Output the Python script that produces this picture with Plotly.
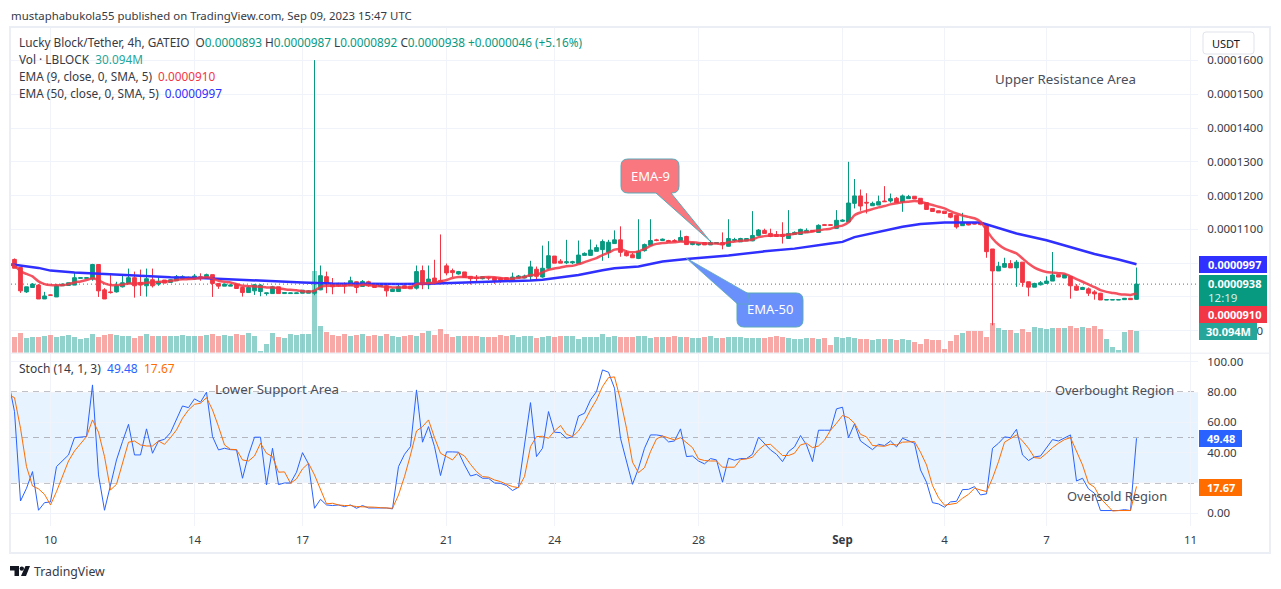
import numpy as np
from plotly.subplots import make_subplots
import plotly.graph_objects as go

# prices are in units of 0.0000001, volume in millions
open_e7 = [1011,987,915,928,935,894,906,900,933,934,
    935,955,955,953,996,921,915,915,930,940,
    957,943,933,951,938,950,943,948,953,953,
    953,960,960,966,940,932,932,938,928,913,
    918,916,910,910,930,910,910,910,911,911,
    911,921,960,938,940,938,933,945,931,945,
    936,931,933,916,916,933,932,926,978,936,
    956,949,992,978,968,974,961,958,954,958,
    958,956,957,947,956,956,961,982,959,985,
    1021,1006,1001,1001,999,1023,1023,1035,1040,1032,
    1058,1069,1032,1025,1014,1037,1053,1069,1067,1067,
    1067,1065,1079,1055,1054,1061,1054,1058,1061,1050,
    1067,1063,1066,1066,1082,1097,1088,1085,1085,1073,
    1085,1085,1090,1097,1091,1114,1114,1103,1124,1122,
    1177,1199,1180,1170,1172,1184,1184,1192,1181,1191,
    1198,1192,1179,1162,1155,1154,1147,1142,1111,1119,
    1119,1120,1111,1042,977,988,999,986,1003,945,
    929,936,940,947,966,956,961,932,922,924,
    915,911,891,891,891,892,896,893]
high_e7 = [1014,987,930,941,938,915,907,938,940,942,
    973,958,958,998,996,926,968,945,966,984,
    975,981,984,984,960,950,952,965,964,960,
    968,970,969,966,940,940,938,938,930,932,
    938,938,912,933,930,914,913,913,920,920,
    1601,993,975,956,942,943,960,946,950,948,
    938,938,935,925,938,934,932,993,993,993,
    1010,1085,999,984,977,974,961,965,962,960,
    958,958,958,972,965,966,1007,990,1052,1065,
    1021,1012,1069,1007,1067,1032,1070,1055,1070,1069,
    1097,1109,1038,1030,1130,1058,1130,1072,1073,1069,
    1071,1097,1081,1063,1060,1062,1067,1062,1091,1130,
    1075,1075,1074,1154,1101,1102,1102,1095,1121,1157,
    1094,1102,1103,1098,1115,1116,1115,1157,1130,1300,
    1249,1218,1207,1182,1200,1228,1206,1196,1203,1202,
    1198,1192,1179,1162,1155,1154,1147,1142,1149,1120,
    1120,1121,1111,1042,1004,1016,1009,1009,1003,945,
    942,947,961,1033,966,968,961,938,930,928,
    920,912,893,893,893,897,897,987]
low_e7 = [985,912,912,928,894,894,904,900,933,934,
    935,955,955,948,900,894,910,913,928,938,
    898,903,901,928,933,941,943,948,952,952,
    951,948,958,900,924,932,932,925,901,913,
    906,902,904,910,910,910,910,910,911,911,
    905,920,911,908,930,910,933,911,931,930,
    928,930,901,915,916,926,924,922,923,923,
    937,937,964,959,966,958,937,947,952,950,
    939,942,947,945,955,955,947,949,957,982,
    1000,1000,997,997,999,1023,1022,1035,1007,1015,
    1057,1019,1020,1016,1012,1034,1052,1065,1066,1063,
    1062,1064,1054,1053,1052,1054,1054,1058,1041,1049,
    1063,1063,1066,1065,1082,1088,1077,1079,1058,1072,
    1085,1085,1090,1093,1091,1112,1111,1102,1122,1122,
    1162,1155,1147,1170,1172,1182,1179,1179,1152,1191,
    1190,1175,1159,1153,1149,1147,1133,1102,1111,1112,
    1115,1112,1016,816,977,987,986,930,930,902,
    929,934,940,947,959,956,895,918,922,903,
    892,891,891,891,891,892,892,892]
close_e7 = [985,918,930,938,894,903,905,933,938,942,
    957,957,957,996,918,894,913,933,942,957,
    933,935,954,933,945,941,951,960,960,958,
    962,954,966,940,932,938,935,925,913,928,
    936,935,912,930,910,913,912,912,920,918,
    920,963,938,930,933,933,948,928,946,933,
    928,936,918,923,930,926,924,975,936,953,
    944,940,971,972,975,958,954,955,960,956,
    949,949,949,959,962,962,989,961,985,1022,
    1000,1000,1004,1004,1024,1029,1039,1046,1064,1062,
    1069,1032,1022,1016,1035,1055,1067,1067,1071,1063,
    1064,1076,1055,1061,1058,1054,1061,1061,1054,1073,
    1070,1073,1073,1082,1098,1088,1079,1079,1079,1088,
    1091,1100,1097,1093,1112,1112,1112,1127,1127,1178,
    1199,1169,1178,1177,1182,1182,1191,1179,1199,1197,
    1190,1175,1159,1153,1149,1147,1136,1107,1121,1113,
    1116,1114,1034,977,991,999,986,1003,943,929,
    940,942,947,965,959,966,933,920,928,911,
    909,891,892,892,892,896,892,938]
volume_m = [21.8,26.9,19.9,21.3,21.3,22.7,24.1,21.3,22.7,24.1,
    21.3,18.5,19.9,25.5,21.3,24.1,25.5,24.1,22.7,22.7,
    19.9,22.7,25.5,22.7,22.7,22.7,22.7,22.7,24.1,22.7,
    22.7,22.7,24.1,25.5,22.7,24.1,22.7,25.5,24.1,26.9,
    22.7,1.9,11.6,26.9,21.3,19.9,25.5,24.1,25.5,25.5,
    113.0,36.6,28.2,24.1,22.7,25.5,22.7,24.1,25.5,22.7,
    24.1,22.7,25.5,22.7,21.3,22.7,24.1,22.7,26.9,29.6,
    24.5,32.9,25.9,21.8,23.2,23.2,23.2,23.2,21.8,21.8,
    21.8,24.5,23.2,24.5,21.8,23.2,23.2,20.4,21.8,23.2,
    21.8,23.2,23.2,23.2,19.0,21.8,21.8,21.8,25.9,21.8,
    23.2,21.8,21.8,21.8,23.2,23.2,20.4,21.8,21.8,21.8,
    23.2,21.8,21.8,20.4,20.4,21.8,23.2,20.4,20.4,21.8,
    21.8,21.8,20.4,20.4,20.4,20.4,21.8,23.2,21.8,20.4,
    19.0,19.0,20.4,20.4,19.0,20.4,10.6,21.8,20.4,21.8,
    19.9,19.0,19.0,17.1,19.0,19.0,19.0,17.1,19.0,17.1,
    14.4,12.5,19.0,17.1,17.1,5.1,16.2,24.5,27.3,30.1,
    30.1,30.1,21.8,41.2,34.3,31.5,31.5,27.3,32.9,28.7,
    35.6,34.3,32.9,34.3,34.3,34.3,37.0,34.3,35.6,34.3,
    37.0,32.9,19.0,7.9,3.7,28.7,31.5,30.094]

# line series start one bar before the first visible candle
ema9_e7 = [997,
    993,976,968,961,946,938,935,935,935,938,
    943,946,950,955,950,940,935,935,936,940,
    940,940,942,943,945,945,947,950,952,953,
    954,956,958,955,948,945,943,938,933,932,
    931,930,928,928,926,923,921,920,917,916,
    918,930,933,933,933,933,935,933,936,935,
    933,932,930,928,928,928,928,938,940,941,
    942,946,950,956,959,959,958,957,958,959,
    958,956,954,954,957,959,965,965,973,980,
    984,987,991,992,997,1003,1009,1015,1024,1031,
    1040,1042,1035,1032,1035,1042,1051,1057,1060,1061,
    1062,1064,1063,1062,1060,1059,1058,1058,1057,1062,
    1064,1066,1067,1070,1077,1080,1082,1082,1083,1084,
    1087,1090,1092,1094,1097,1100,1102,1108,1111,1121,
    1142,1150,1155,1160,1165,1169,1174,1177,1180,1182,
    1184,1182,1177,1172,1167,1162,1154,1147,1141,1137,
    1133,1123,1098,1073,1055,1043,1036,1029,1014,999,
    987,979,974,972,970,969,961,953,945,937,
    929,920,915,912,909,907,906,910]
ema50_bars = [-1,0,4,6,10,14,20,26,31,37,42,48,53,59,64,69,75,80,86,88,92,94,98,100,104,108,
    112,119,125,130,136,138,140,144,148,151,155,161,163,167,172,176,180,184,187]
ema50_e7 = [996,995,986,978,972,968,963,958,956,951,947,943,940,938,938,939,942,945,949,951,959,965,979,985,990,1005,
    1012,1023,1035,1043,1058,1063,1077,1093,1108,1116,1120,1120,1110,1088,1068,1048,1027,1011,997]
stoch_k = [86.9,
    67.1,8.1,16.5,27.5,2.0,7.0,7.5,30.8,34.5,38.5,
    49.9,50.2,50.6,84.7,25.3,2.0,18.7,35.2,47.3,58.7,
    38.5,38.5,55.7,39.6,47.7,48.8,53.2,61.6,70.8,69.7,
    75.5,73.3,79.9,50.6,41.8,42.9,42.0,41.8,23.1,38.5,
    50.2,50.2,18.7,42.9,18.9,20.0,20.0,27.1,40.0,32.6,
    3.3,9.2,5.5,5.1,5.5,4.4,5.5,3.3,5.1,3.5,
    3.5,3.7,3.5,2.9,30.8,38.9,44.0,81.4,46.9,57.2,
    44.0,24.9,40.5,40.5,40.3,31.9,24.6,25.7,23.1,23.1,
    20.0,19.8,18.3,15.0,17.2,45.1,73.0,37.4,42.9,67.1,
    53.5,53.2,49.5,50.4,64.2,66.0,74.8,80.3,94.6,93.1,
    82.5,49.5,34.1,19.1,29.7,42.9,51.7,51.7,51.0,47.1,
    47.7,55.7,37.4,37.8,34.5,32.6,36.1,35.2,20.5,36.3,
    35.0,36.1,36.1,38.9,50.2,46.2,41.8,38.9,34.1,40.7,
    43.8,51.3,45.1,34.1,54.8,54.8,54.8,68.9,70.0,49.9,
    59.0,47.7,44.7,42.0,45.5,44.7,47.7,43.8,49.5,47.7,
    46.2,28.6,20.5,7.0,6.2,4.0,7.5,7.9,15.6,15.8,
    17.6,12.1,12.8,42.9,46.2,50.4,49.9,55.4,38.5,34.8,
    37.2,37.8,42.9,48.6,47.7,49.7,51.7,21.3,23.1,16.1,
    13.2,1.8,1.8,1.8,1.8,2.4,1.8,49.48]
stoch_d = [78.1,
    76.3,56.1,30.8,18.0,16.1,12.5,5.5,14.3,24.2,34.5,
    41.1,46.2,50.6,61.6,53.5,37.4,15.4,19.1,33.0,46.9,
    47.7,45.1,44.4,44.4,47.7,45.5,49.9,55.0,62.7,68.2,
    71.9,72.6,76.3,68.2,57.2,45.1,42.2,42.0,35.2,34.5,
    37.8,46.2,39.6,37.4,27.1,27.3,19.8,22.7,29.3,33.0,
    25.3,15.4,6.2,6.6,5.5,5.1,5.1,4.4,4.4,4.0,
    4.0,3.7,3.3,3.3,12.1,24.2,38.5,54.3,57.2,61.6,
    49.9,39.6,37.4,35.2,40.0,37.8,32.3,27.5,24.2,23.8,
    22.0,20.9,19.1,17.6,16.9,24.2,44.0,50.6,50.8,49.5,
    54.3,57.9,52.1,50.6,54.3,60.5,68.2,74.8,83.6,89.5,
    90.0,74.8,56.1,33.7,26.8,30.1,40.7,49.1,51.0,49.5,
    48.4,49.9,46.9,43.3,35.9,34.8,34.5,34.5,30.4,30.4,
    30.4,35.4,35.9,37.0,41.8,45.1,45.5,41.8,38.1,38.1,
    39.6,45.1,46.2,43.3,44.4,48.2,54.8,59.4,64.5,63.1,
    59.4,52.1,50.4,44.7,44.4,44.2,45.5,45.1,46.9,46.9,
    47.3,40.3,31.9,18.3,10.3,5.3,5.9,6.6,9.9,12.5,
    16.5,15.4,14.3,23.1,34.1,46.9,49.5,51.7,47.7,42.9,
    36.7,36.3,39.6,43.3,46.2,48.6,49.9,40.7,31.9,19.8,
    17.2,9.9,5.5,1.5,1.8,2.0,1.8,17.67]

date_bars = [6, 30, 48, 72, 90, 114, 138, 155, 172, 196]
date_labels = ["10", "14", "17", "21", "24", "28", "<b>Sep</b>", "4", "7", "11"]
price_ticks_e7 = [800, 900, 1000, 1100, 1200, 1300, 1400, 1500, 1600]
# 900 and 1000 sit fully behind the value tags
price_tick_labels = ["0.0000800", "", "", "0.0001100", "0.0001200", "0.0001300", "0.0001400", "0.0001500", "0.0001600"]
last_close = 938

W, H = 1281, 589
FONT = "Noto Sans"
UP, DOWN = "#089981", "#f23645"
GRID = "#f0f3fa"
TEXT = "#363a45"
NOTE = "#4a4e5a"


def px(x):
    return x / W


def py(y):
    return 1 - y / H


def price(values):
    return np.array(values) * 1e-7


bars = list(range(len(close_e7)))
line_bars = list(range(-1, len(close_e7)))
vol_colors = ["rgba(38,166,154,0.5)" if c >= o else "rgba(239,83,80,0.5)"
              for o, c in zip(open_e7, close_e7)]

fig = make_subplots(rows=2, cols=1, shared_xaxes=True,
                    specs=[[{"secondary_y": True}], [{}]])

fig.add_trace(go.Bar(x=bars, y=volume_m, marker_color=vol_colors, marker_line_width=0, width=0.83),
              row=1, col=1, secondary_y=False)
fig.add_trace(go.Candlestick(x=bars, open=price(open_e7), high=price(high_e7), low=price(low_e7),
                             close=price(close_e7), whiskerwidth=0,
                             increasing=dict(line=dict(color=UP, width=1), fillcolor=UP),
                             decreasing=dict(line=dict(color=DOWN, width=1), fillcolor=DOWN)),
              row=1, col=1, secondary_y=True)
fig.add_trace(go.Scatter(x=ema50_bars, y=price(ema50_e7), mode="lines",
                         line=dict(color="#2f2fff", width=2.5)), row=1, col=1, secondary_y=True)
fig.add_trace(go.Scatter(x=line_bars, y=price(ema9_e7), mode="lines",
                         line=dict(color="#f23645", width=2.5, shape="spline", smoothing=0.5), opacity=0.85),
              row=1, col=1, secondary_y=True)
fig.add_trace(go.Scatter(x=line_bars, y=stoch_k, mode="lines", line=dict(color="#2962ff", width=1)), row=2, col=1)
fig.add_trace(go.Scatter(x=line_bars, y=stoch_d, mode="lines", line=dict(color="#ff6d00", width=1)), row=2, col=1)

x_range = [-0.583, 197.25]
fig.update_xaxes(range=x_range, tickvals=date_bars, ticktext=date_labels, gridcolor=GRID, gridwidth=1,
                 showgrid=True, zeroline=False, showline=False, rangeslider_visible=False,
                 domain=[px(11), px(1198)], tickfont=dict(family=FONT, size=11.5, color=TEXT),
                 ticks="outside", ticklen=3, tickcolor="rgba(0,0,0,0)")
fig.update_layout(
    width=W, height=H, margin=dict(l=0, r=0, t=0, b=0), showlegend=False, boxgap=0.1,
    paper_bgcolor="white", plot_bgcolor="white", bargap=0,
    yaxis=dict(domain=[py(352.7), py(28)], range=[0, 451], visible=False, showgrid=False, fixedrange=True),
    yaxis2=dict(range=[735e-7, 1696e-7], side="right", tickvals=price(price_ticks_e7), ticktext=price_tick_labels,
                gridcolor=GRID, zeroline=False, showline=False, showgrid=True, overlaying="y",
                tickfont=dict(family=FONT, size=11.5, color=TEXT),
                ticks="outside", ticklen=6, tickcolor="rgba(0,0,0,0)"),
    yaxis3=dict(domain=[py(526), py(354)], range=[-8.4, 105.1], side="right", tickformat=".2f", dtick=20,
                gridcolor=GRID, zeroline=False, showline=False,
                tickfont=dict(family=FONT, size=11.5, color=TEXT),
                ticks="outside", ticklen=6, tickcolor="rgba(0,0,0,0)"),
)

# stochastic band and levels
fig.add_shape(type="rect", xref="x2 domain", yref="y3", x0=0, x1=1, y0=20, y1=80,
              fillcolor="rgba(33,150,243,0.11)", line_width=0, layer="below")
for level, dash_color in [(80, "#787b86"), (50, "#b2b5be"), (20, "#787b86")]:
    fig.add_shape(type="line", xref="x2 domain", yref="y3", x0=0, x1=1, y0=level, y1=level,
                  line=dict(color=dash_color, width=1, dash="6px,5px"), layer="below")
# last price line
fig.add_shape(type="line", xref="x domain", yref="y2", x0=0, x1=1, y0=last_close * 1e-7, y1=last_close * 1e-7,
              line=dict(color=UP, width=1, dash="1px,3px"))
# pane separator and outer frame
fig.add_shape(type="line", xref="paper", yref="paper", x0=px(11), x1=px(1269), y0=py(353.2), y1=py(353.2),
              line=dict(color="#e9ecf3", width=1))
fig.add_shape(type="rect", xref="paper", yref="paper", x0=px(10), x1=px(1270), y0=py(553), y1=py(27),
              line=dict(color="#eceef5", width=2))


def rounded(x0, x1, y0, y1, r, tail_top=None, tail_bottom=None):
    d = f"M{px(x0 + r):.5f},{py(y0):.5f} "
    for t in tail_top or []:
        d += f"L{px(t[0]):.5f},{py(t[1]):.5f} "
    d += f"L{px(x1 - r):.5f},{py(y0):.5f} Q{px(x1):.5f},{py(y0):.5f} {px(x1):.5f},{py(y0 + r):.5f} "
    d += f"L{px(x1):.5f},{py(y1 - r):.5f} Q{px(x1):.5f},{py(y1):.5f} {px(x1 - r):.5f},{py(y1):.5f} "
    for t in tail_bottom or []:
        d += f"L{px(t[0]):.5f},{py(t[1]):.5f} "
    d += f"L{px(x0 + r):.5f},{py(y1):.5f} Q{px(x0):.5f},{py(y1):.5f} {px(x0):.5f},{py(y1 - r):.5f} "
    d += f"L{px(x0):.5f},{py(y0 + r):.5f} Q{px(x0):.5f},{py(y0):.5f} {px(x0 + r):.5f},{py(y0):.5f} Z"
    return d


# callouts
fig.add_shape(type="path", xref="paper", yref="paper", fillcolor="#f9777f", line=dict(color="#5aa9b8", width=1),
              path=rounded(621, 679, 159, 193, 7, tail_bottom=[(671, 193), (710, 241), (656, 193)]))
fig.add_shape(type="path", xref="paper", yref="paper", fillcolor="#6a90fc", line=dict(color="#5aa9b8", width=1),
              path=rounded(737, 803, 293, 327, 7))
fig.add_shape(type="path", xref="paper", yref="paper", fillcolor="#6a90fc", line=dict(color="#5aa9b8", width=0.8),
              path=f"M{px(748):.5f},{py(293.5):.5f} L{px(686):.5f},{py(258):.5f} L{px(737.5):.5f},{py(304):.5f} "
                   f"L{px(750):.5f},{py(304):.5f} Z")
# USDT box
fig.add_shape(type="path", xref="paper", yref="paper", fillcolor="white", line=dict(color="#e0e3eb", width=1),
              path=rounded(1203, 1254, 32, 54, 3))
# value tags
tags = [(1199, 1267, 256, 273, "#3030ff"), (1199, 1267, 275, 306, UP), (1199, 1267, 306, 323, DOWN),
        (1199, 1257, 323, 340, "#26a69a"), (1199, 1242, 430, 447, "#2962ff"), (1199, 1242, 479, 496, "#ff6d00")]
for x0, x1, y0, y1, c in tags:
    fig.add_shape(type="rect", xref="paper", yref="paper", x0=px(x0), x1=px(x1), y0=py(y1), y1=py(y0),
                  fillcolor=c, line_width=0)
# TradingView logo
fig.add_shape(type="path", xref="paper", yref="paper", fillcolor="#131722", line_width=0,
              path=f"M{px(10):.5f},{py(566):.5f} L{px(19):.5f},{py(566):.5f} L{px(19):.5f},{py(576):.5f} "
                   f"L{px(14.5):.5f},{py(576):.5f} L{px(14.5):.5f},{py(570.5):.5f} L{px(10):.5f},{py(570.5):.5f} Z "
                   f"M{px(25.5):.5f},{py(566):.5f} L{px(30):.5f},{py(566):.5f} L{px(26):.5f},{py(576):.5f} "
                   f"L{px(21):.5f},{py(576):.5f} Z")
fig.add_shape(type="circle", xref="paper", yref="paper", x0=px(19.6), x1=px(24), y0=py(570.8), y1=py(566.4),
              fillcolor="#131722", line_width=0)


def label(x, y, text, size=11.8, color=TEXT, anchor="left"):
    fig.add_annotation(xref="paper", yref="paper", x=px(x), y=py(y), text=text, showarrow=False,
                       xanchor=anchor, yanchor="middle", align="left", borderpad=0,
                       font=dict(family=FONT, size=size, color=color))


def tinted(text, color):
    return f'<span style="color:{color}">{text}</span>'


label(10, 15, "mustaphabukola55 published on TradingView.com, Sep 09, 2023 15:47 UTC", 11.4)
label(18, 42, "Lucky Block/Tether, 4h, GATEIO  O" + tinted("0.0000893", UP) + " H" + tinted("0.0000987", UP)
      + " L" + tinted("0.0000892", UP) + " C" + tinted("0.0000938", UP) + " " + tinted("+0.0000046 (+5.16%)", UP))
label(18, 59, "Vol · LBLOCK  " + tinted("30.094M", "#26a69a"))
label(18, 76, "EMA (9, close, 0, SMA, 5)  " + tinted("0.0000910", DOWN))
label(18, 93, "EMA (50, close, 0, SMA, 5)  " + tinted("0.0000997", "#3030ff"))
label(18, 368, "Stoch (14, 1, 3)  " + tinted("49.48", "#2962ff") + "  " + tinted("17.67", "#ff6d00"), 12)
label(994, 79, "Upper Resistance Area", 13.3, NOTE)
label(214, 389, "Lower Support Area", 13.3, NOTE)
label(1054, 390, "Overbought Region", 12.9, NOTE)
label(1066, 496, "Oversold Region", 12.9, NOTE)
label(650, 176, "EMA-9", 13, "white", "center")
label(770, 309, "EMA-50", 13, "white", "center")
label(1226, 43, "USDT", 11, "#131722", "center")
label(33, 571, "TradingView", 12.3, TEXT)
label(1234.5, 264.5, "<b>0.0000997</b>", 11, "white", "center")
label(1234.5, 283, "<b>0.0000938</b>", 11, "white", "center")
label(1207, 297.5, "12:19", 11.5, "#d6f0eb")
label(1234.5, 314.5, "<b>0.0000910</b>", 11, "white", "center")
label(1228, 331.5, "<b>30.094M</b>", 11, "white", "center")
label(1220.5, 438.5, "<b>49.48</b>", 11, "white", "center")
label(1220.5, 487.5, "<b>17.67</b>", 11, "white", "center")

fig.write_html("out.html", config={"displayModeBar": False},
               post_script="document.body.style.margin='0';document.documentElement.style.overflow='hidden';")
